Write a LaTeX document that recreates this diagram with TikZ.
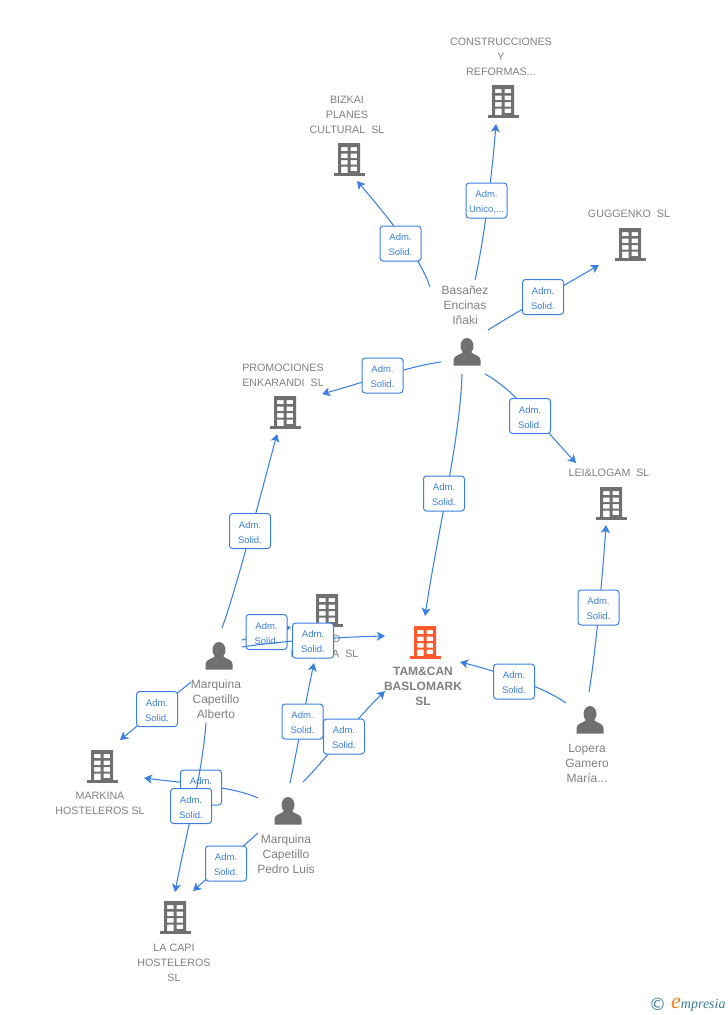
\documentclass[tikz,border=0pt]{standalone}
\usepackage{fontspec}
\setmainfont{Liberation Sans}
\newfontfamily\logoserif{Liberation Serif}
\newfontfamily\logosym{DejaVu Sans}
\usetikzlibrary{arrows.meta}
\definecolor{edgeblue}{HTML}{3B80E0}
\definecolor{boxtext}{HTML}{3B80E0}
\definecolor{greytext}{HTML}{808080}
\definecolor{iconbase}{HTML}{707070}
\definecolor{hub}{HTML}{FF5A2B}
\definecolor{logoteal}{HTML}{3A7C96}
\definecolor{logoorange}{HTML}{F08020}
\tikzset{
 x=1pt,y=-1pt,
 edge/.style={draw=edgeblue,line width=1.05pt},
 tipped/.style={edge,-{Stealth[length=8pt,width=9pt,inset=2pt]}},
 rolebox/.style={draw=edgeblue,line width=1pt,rounded corners=3pt,top color=white,bottom color=white,middle color=white,
   minimum width=41pt,minimum height=35pt,inner sep=0pt,align=center,font=\fontsize{9.5}{15}\selectfont,text=boxtext},
 co/.style={font=\fontsize{10.7}{15}\selectfont,text=greytext,align=center,inner sep=0pt},
 pe/.style={font=\fontsize{12}{15}\selectfont,text=greytext,align=center,inner sep=0pt},
 hubl/.style={font=\fontsize{12}{15}\selectfont\bfseries,text=greytext,align=center,inner sep=0pt},
}
\newcommand{\rs}{\rule{0pt}{9.5pt}}
\newcommand{\dsp}{\ \ }
\newcommand{\building}[4]{%
 \node[minimum width=32pt,minimum height=34pt,inner sep=0pt] (#1) at (#2,#3) {};
 \begin{scope}[shift={(#2,#3)}]
  \fill[#4,even odd rule] (-11,-16) rectangle (11,15)
   (-8,-12) rectangle (-1.5,-7.8) (1.5,-12) rectangle (8,-7.8)
   (-8,-5.5) rectangle (-1.5,-1) (1.5,-5.5) rectangle (8,-1)
   (-8,1.2) rectangle (-1.5,5.7) (1.5,1.2) rectangle (8,5.7)
   (-8,7.5) rectangle (-1.5,15) (1.5,7.5) rectangle (8,12);
  \fill[#4] (-15.5,14) rectangle (15.5,17);
 \end{scope}}
\newcommand{\person}[3]{%
 \node[minimum width=27pt,minimum height=27pt,inner sep=0pt] (#1) at (#2,#3) {};
 \begin{scope}[shift={(#2,#3)}]
  \fill[iconbase] (0,-6) ellipse (6.5 and 8);
  \fill[iconbase] (-13.5,13.5) -- (-13.5,8) .. controls (-13.5,3) and (-6,3) .. (-4,0) -- (4,0)
    .. controls (6,3) and (13.5,3) .. (13.5,8) -- (13.5,13.5) -- cycle;
 \end{scope}}
\begin{document}
\begin{tikzpicture}
\useasboundingbox (0,0) rectangle (728,1015);
% icons
\building{constr}{503}{101}{iconbase}
\building{bizkai}{349}{159}{iconbase}
\building{guggenko}{630}{244}{iconbase}
\building{promo}{285}{412}{iconbase}
\building{lei}{611}{503}{iconbase}
\building{fake}{327}{610}{iconbase}
\building{tam}{425}{642}{hub}
\building{markina}{102}{766}{iconbase}
\building{lacapi}{175}{917}{iconbase}
\person{basanez}{467}{352}
\person{alberto}{219}{656}
\person{pedro}{288}{811}
\person{lopera}{590}{720}
% labels
\node[co] (lconstr) at (501,56.7) {CONSTRUCCIONES\\Y\\REFORMAS...};
\node[co] (lbizkai) at (347,114.7) {BIZKAI\\PLANES\\CULTURAL\dsp SL};
\node[co] (lgug) at (629,213.5) {GUGGENKO\dsp SL};
\node[co] (lpromo) at (283,375) {PROMOCIONES\\ENKARANDI\dsp SL};
\node[co] (llei) at (609,472.5) {LEI\&LOGAM\dsp SL};
\node[co] (lfake) at (324.5,646.5) {\hphantom{MAR}D\\MARKINA\dsp SL};
\node[hubl] (ltam) at (423,686) {TAM\&CAN\\BASLOMARK\\SL};
\node[co] (lmark) at (100,803) {MARKINA\\HOSTELEROS SL};
\node[co] (lcapi) at (174,962.7) {LA CAPI\\HOSTELEROS\\SL};
\node[pe] (lbas) at (465,305) {Basañez\\Encinas\\Iñaki};
\node[pe] (lalb) at (216,699) {Marquina\\Capetillo\\Alberto};
\node[pe] (lped) at (286,854) {Marquina\\Capetillo\\Pedro Luis};
\node[pe] (llop) at (587,763) {Lopera\\Gamero\\María...};
% connector ends
\foreach \n/\x/\y in {a1/475/280,a2/496/124,b1/430/287,b2/357/181,c1/488/330,c2/599/265,
 d1/441/362,d2/322/394,e1/485/374,e2/576/463,f1/462/374,f2/425/616,
 g1/589/692,g2/606/525,h1/566/703,h2/460/662,i1/222/628,i2/277/434,
 j1/242/640,j2/291/627,k1/242/647,k2/385/636,l1/191/682,l2/120/740,
 m1/206/723,m2/175/892,n1/258/798,n2/144/778,o1/290/783,o2/314/663,
 p1/303/782,p2/385/691,q1/258/833,q2/193/891}
 {\coordinate (\n) at (\x,\y);}
% role boxes that lie under other connectors
\draw[tipped] (n1) .. controls (235,787) and (185,783) .. (n2);
\node[rolebox] (rg) at (201,787.5) {\rs Adm.\\Solid.};
\draw[tipped] (j1) .. controls (255,636) and (275,631) .. (j2);
\node[rolebox] (rj) at (266.5,632) {\rs Adm.\\Solid.};
\draw[tipped] (k1) .. controls (280,641) and (340,637) .. (k2);
\draw[tipped] (m1) .. controls (202,775) and (187,830) .. (m2);
% connectors under their boxes
\draw[tipped] (a1) .. controls (484,240) and (492,175) .. (a2);
\draw[tipped] (b1) .. controls (422,262) and (395,225) .. (b2);
\draw[tipped] (c1) .. controls (520,310) and (565,285) .. (c2);
\draw[tipped] (d1) .. controls (410,366) and (365,382) .. (d2);
\draw[tipped] (e1) .. controls (515,390) and (545,430) .. (e2);
\draw[tipped] (f1) .. controls (460,440) and (438,530) .. (f2);
\draw[tipped] (g1) .. controls (596,650) and (603,570) .. (g2);
\draw[tipped] (h1) .. controls (545,688) and (500,672) .. (h2);
\draw[tipped] (i1) .. controls (236,590) and (262,490) .. (i2);
\draw[tipped] (l1) -- (l2);
\draw[tipped] (o1) .. controls (297,750) and (307,695) .. (o2);
\draw[tipped] (p1) .. controls (325,760) and (355,720) .. (p2);
\draw[tipped] (q1) -- (q2);
% boxes over connectors
\node[rolebox] (ra) at (486.5,200.5) {\rs Adm.\\Unico,...};
\node[rolebox] (rb) at (400.5,243.5) {\rs Adm.\\Solid.};
\node[rolebox] (rc) at (543,297) {\rs Adm.\\Solid.};
\node[rolebox] (rd) at (382.5,375.5) {\rs Adm.\\Solid.};
\node[rolebox] (re) at (530,416) {\rs Adm.\\Solid.};
\node[rolebox] (rf) at (444,493.5) {\rs Adm.\\Solid.};
\node[rolebox] (rh) at (598.5,607.5) {\rs Adm.\\Solid.};
\node[rolebox] (ri) at (514,681.5) {\rs Adm.\\Solid.};
\node[rolebox] (rk) at (250,531) {\rs Adm.\\Solid.};
\node[rolebox] (rk2) at (313,640.5) {\rs Adm.\\Solid.};
\node[rolebox] (rl) at (157,709) {\rs Adm.\\Solid.};
\node[rolebox] (rm) at (191,806) {\rs Adm.\\Solid.};
\node[rolebox] (ro) at (302.5,721.5) {\rs Adm.\\Solid.};
\node[rolebox] (rp) at (344,736.5) {\rs Adm.\\Solid.};
\node[rolebox] (rq) at (226,863.5) {\rs Adm.\\Solid.};
% logo
\node[inner sep=0pt,text=logoteal,font=\logosym\fontsize{17}{17}\selectfont] (logoc) at (657.5,1004) {©};
\node[inner sep=0pt,anchor=base west,font=\logoserif\itshape\fontsize{14}{14}\selectfont,text=logoteal] (logot) at (671,1008.5)
 {\textcolor{logoorange}{\fontsize{22}{22}\selectfont e}mpresia};
\end{tikzpicture}
\end{document}
